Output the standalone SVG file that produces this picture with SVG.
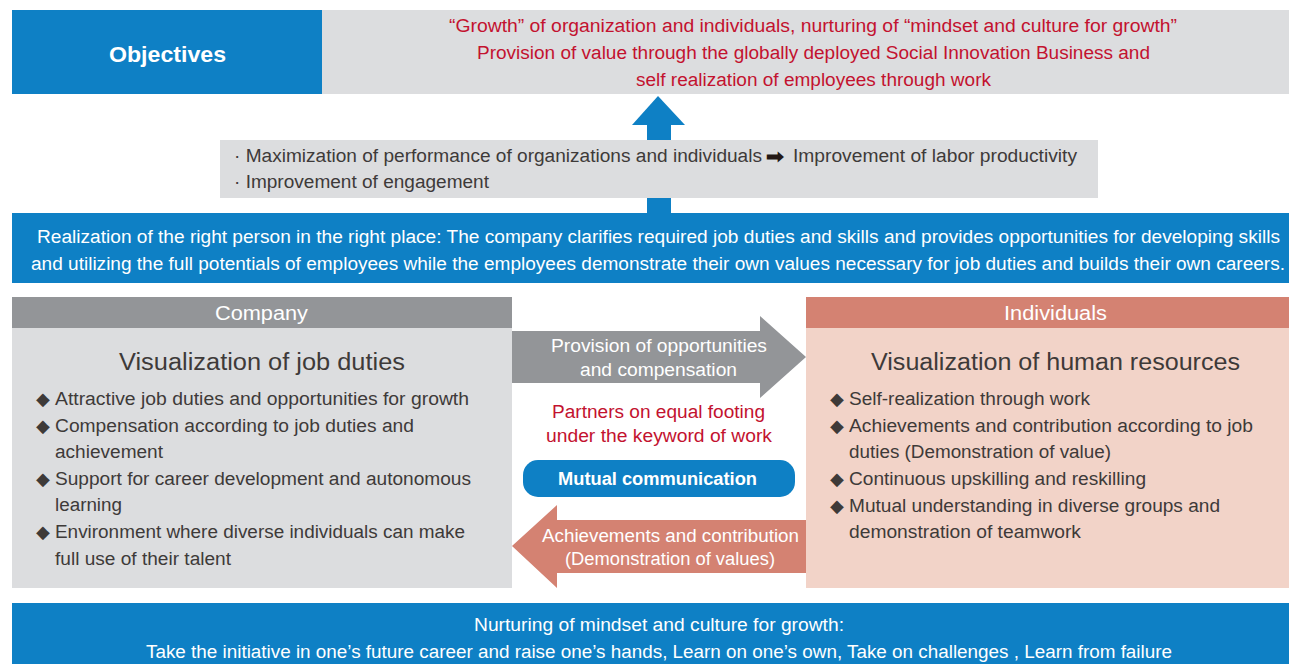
<svg xmlns="http://www.w3.org/2000/svg" width="1289" height="664" viewBox="0 0 1289 664">
<style>
text{font-family:"Liberation Sans",Arial,sans-serif;}
.w{fill:#ffffff;}
.r{fill:#c3122f;}
.d{fill:#3e3a39;}
.s17{font-size:18px;}
.t{font-size:23px;}
.b{font-weight:bold;}
.dia{font-family:"DejaVu Sans",sans-serif;font-size:18px;fill:#3e3a39;}
.blue{fill:#0e80c5;}
.lg{fill:#dcdddf;}
.mg{fill:#939598;}
.sal{fill:#d48272;}
.pk{fill:#f2d3c8;}
</style>
<rect width="1289" height="664" fill="#ffffff"/>

<g id="objectives">
<rect class="blue" x="12" y="10" width="310" height="84"/>
<text class="w b" x="109" y="62" font-size="22" textLength="117" lengthAdjust="spacingAndGlyphs">Objectives</text>
</g>
<g id="objectives-text">
<rect class="lg" x="322" y="10" width="967" height="84"/>
<text class="r s17" x="449" y="32" textLength="728" lengthAdjust="spacingAndGlyphs">“Growth” of organization and individuals, nurturing of “mindset and culture for growth”</text>
<text class="r s17" x="477" y="59" textLength="673" lengthAdjust="spacingAndGlyphs">Provision of value through the globally deployed Social Innovation Business and</text>
<text class="r s17" x="636" y="86" textLength="355" lengthAdjust="spacingAndGlyphs">self realization of employees through work</text>
</g>

<g id="connectors">
<rect class="blue" x="647" y="124" width="24" height="92"/>
<polygon class="blue" points="632,125 658,96 685,125"/>
<polygon class="mg" points="512,331 760,331 760,316 806,357 760,398 760,383 512,383"/>
<polygon class="sal" points="806,520 557,520 557,505 512,546 557,588 557,573 806,573"/>
</g>

<g id="performance">
<rect class="lg" x="220" y="140" width="878" height="58"/>
<text class="d s17" x="234" y="162" textLength="528" lengthAdjust="spacingAndGlyphs">· Maximization of performance of organizations and individuals</text>
<text x="766" y="163" font-family="DejaVu Sans, sans-serif" font-size="19" font-weight="bold" fill="#231815" textLength="18" lengthAdjust="spacingAndGlyphs">➡</text>
<text class="d s17" x="793" y="162" textLength="284" lengthAdjust="spacingAndGlyphs">Improvement of labor productivity</text>
<text class="d s17" x="234" y="188" textLength="255" lengthAdjust="spacingAndGlyphs">· Improvement of engagement</text>
</g>

<g id="right-person">
<rect class="blue" x="12" y="213" width="1277" height="70"/>
<text class="w s17" x="37" y="243" textLength="1243" lengthAdjust="spacingAndGlyphs">Realization of the right person in the right place: The company clarifies required job duties and skills and provides opportunities for developing skills</text>
<text class="w s17" x="31" y="270" textLength="1254" lengthAdjust="spacingAndGlyphs">and utilizing the full potentials of employees while the employees demonstrate their own values necessary for job duties and builds their own careers.</text>
</g>

<g id="company">
<rect class="mg" x="12" y="297" width="500" height="31"/>
<rect class="lg" x="12" y="328" width="500" height="260"/>
<text class="w" x="215" y="320" font-size="20" textLength="93" lengthAdjust="spacingAndGlyphs">Company</text>
<text class="d t" x="119" y="370" textLength="286" lengthAdjust="spacingAndGlyphs">Visualization of job duties</text>
<text class="dia" x="36" y="405">◆</text>
<text class="d s17" x="55" y="405" textLength="414" lengthAdjust="spacingAndGlyphs">Attractive job duties and opportunities for growth</text>
<text class="dia" x="36" y="432">◆</text>
<text class="d s17" x="55" y="432" textLength="359" lengthAdjust="spacingAndGlyphs">Compensation according to job duties and</text>
<text class="d s17" x="55" y="458" textLength="108" lengthAdjust="spacingAndGlyphs">achievement</text>
<text class="dia" x="36" y="485">◆</text>
<text class="d s17" x="55" y="485" textLength="416" lengthAdjust="spacingAndGlyphs">Support for career development and autonomous</text>
<text class="d s17" x="55" y="511" textLength="67" lengthAdjust="spacingAndGlyphs">learning</text>
<text class="dia" x="36" y="538">◆</text>
<text class="d s17" x="55" y="538" textLength="410" lengthAdjust="spacingAndGlyphs">Environment where diverse individuals can make</text>
<text class="d s17" x="55" y="565" textLength="176" lengthAdjust="spacingAndGlyphs">full use of their talent</text>
</g>

<g id="individuals">
<rect class="sal" x="806" y="297" width="483" height="31"/>
<rect class="pk" x="806" y="328" width="483" height="260"/>
<text class="w" x="1004" y="320" font-size="20" textLength="103" lengthAdjust="spacingAndGlyphs">Individuals</text>
<text class="d t" x="871" y="370" textLength="369" lengthAdjust="spacingAndGlyphs">Visualization of human resources</text>
<text class="dia" x="830" y="405">◆</text>
<text class="d s17" x="849" y="405" textLength="241" lengthAdjust="spacingAndGlyphs">Self-realization through work</text>
<text class="dia" x="830" y="432">◆</text>
<text class="d s17" x="849" y="432" textLength="404" lengthAdjust="spacingAndGlyphs">Achievements and contribution according to job</text>
<text class="d s17" x="849" y="458" textLength="262" lengthAdjust="spacingAndGlyphs">duties (Demonstration of value)</text>
<text class="dia" x="830" y="485">◆</text>
<text class="d s17" x="849" y="485" textLength="297" lengthAdjust="spacingAndGlyphs">Continuous upskilling and reskilling</text>
<text class="dia" x="830" y="512">◆</text>
<text class="d s17" x="849" y="512" textLength="371" lengthAdjust="spacingAndGlyphs">Mutual understanding in diverse groups and</text>
<text class="d s17" x="849" y="538" textLength="232" lengthAdjust="spacingAndGlyphs">demonstration of teamwork</text>
</g>

<g id="provision-label">
<text class="w s17" x="551" y="352" textLength="216" lengthAdjust="spacingAndGlyphs">Provision of opportunities</text>
<text class="w s17" x="580" y="376" textLength="157" lengthAdjust="spacingAndGlyphs">and compensation</text>
</g>

<g id="partners">
<text class="r s17" x="552" y="418" textLength="213" lengthAdjust="spacingAndGlyphs">Partners on equal footing</text>
<text class="r s17" x="546" y="442" textLength="226" lengthAdjust="spacingAndGlyphs">under the keyword of work</text>
</g>

<g id="mutual-communication">
<rect class="blue" x="523" y="460" width="272" height="37" rx="15"/>
<text class="w b s17" x="558" y="485" textLength="199" lengthAdjust="spacingAndGlyphs">Mutual communication</text>
</g>

<g id="achievements-label">
<text class="w s17" x="542" y="542" textLength="257" lengthAdjust="spacingAndGlyphs">Achievements and contribution</text>
<text class="w s17" x="565" y="565" textLength="210" lengthAdjust="spacingAndGlyphs">(Demonstration of values)</text>
</g>

<g id="nurturing">
<rect class="blue" x="12" y="603" width="1277" height="61"/>
<text class="w s17" x="474" y="631" textLength="370" lengthAdjust="spacingAndGlyphs">Nurturing of mindset and culture for growth:</text>
<text class="w s17" x="146" y="658" textLength="1026" lengthAdjust="spacingAndGlyphs">Take the initiative in one’s future career and raise one’s hands, Learn on one’s own, Take on challenges , Learn from failure</text>
</g>
</svg>
